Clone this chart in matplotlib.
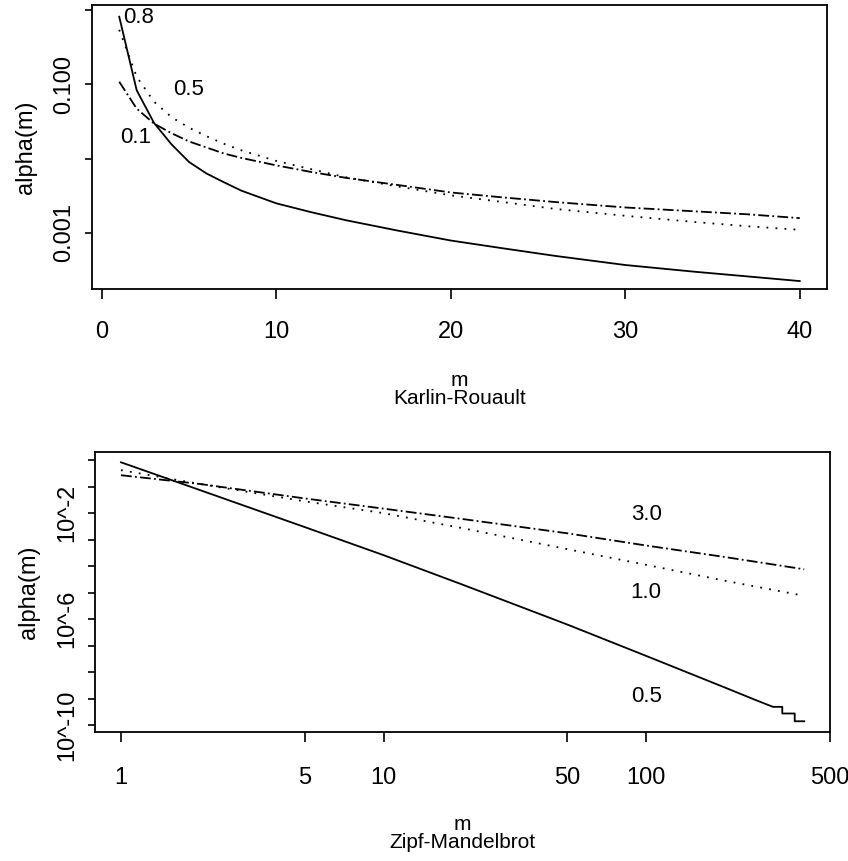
import numpy as np
import matplotlib.pyplot as plt
from matplotlib.ticker import NullLocator

# Karlin-Rouault panel
m_kr = [1, 2, 3, 4, 5, 6, 7, 8, 10, 12, 14, 17, 20, 23, 26, 30, 34, 37, 40]
kr_08 = [0.81, 0.083, 0.030, 0.0155, 0.0090, 0.0063, 0.0048, 0.0037, 0.0025, 0.0019,
         0.00148, 0.00107, 0.00079, 0.00062, 0.00049, 0.00037, 0.00030, 0.00026, 0.000225]
kr_05 = [0.54, 0.126, 0.058, 0.036, 0.026, 0.020, 0.0158, 0.0129, 0.0093, 0.0072,
         0.0056, 0.0042, 0.0032, 0.0026, 0.0021, 0.0017, 0.0014, 0.00123, 0.0011]
kr_01 = [0.108, 0.047, 0.0295, 0.0219, 0.017, 0.0141, 0.0117, 0.0102, 0.0081, 0.0066,
         0.0055, 0.0044, 0.0035, 0.0030, 0.0026, 0.0022, 0.00195, 0.00178, 0.00158]

# Zipf-Mandelbrot panel
m_zm = [1, 2, 5, 10, 20, 50, 100, 200, 400]
zm_30 = [0.27, 0.126, 0.036, 0.0148, 6.0e-3, 1.74e-3, 6.0e-4, 2.2e-4, 7.6e-5]
zm_10 = [0.42, 0.126, 0.028, 0.010, 2.7e-3, 4.4e-4, 1.12e-4, 2.8e-5, 7.6e-6]
m_zm05 = [1, 2, 5, 10, 20, 50, 100, 200, 264, 304, 330, 330, 368, 368, 400]
zm_05 = [0.83, 0.074, 3.0e-3, 2.6e-4, 2.0e-5, 6.3e-7, 4.1e-8, 2.6e-9, 8.5e-10,
         4.9e-10, 4.9e-10, 2.75e-10, 2.75e-10, 1.4e-10, 1.4e-10]

plt.rcParams['font.family'] = ['Liberation Sans Narrow', 'Liberation Sans', 'DejaVu Sans']
plt.rcParams['axes.linewidth'] = 1.3

fig = plt.figure(figsize=(8.48, 8.61), dpi=100)
dots = (0, (1, 4))
dashdot = (0, (6, 1.8, 1, 1.8))

# top panel
ax1 = fig.add_axes([0.1085, 0.6643, 0.8667, 0.330])
ax1.plot(m_kr, kr_08, color='black', lw=1.3)
ax1.plot(m_kr, kr_05, color='black', lw=1.3, linestyle=dots)
ax1.plot(m_kr, kr_01, color='black', lw=1.3, linestyle=dashdot)
ax1.set_yscale('log')
ax1.set_xlim(-0.56, 41.56)
ax1.set_ylim(10**-3.755, 10**0.067)
ax1.set_xticks([0, 10, 20, 30, 40])
ax1.set_yticks([1, 0.1, 0.01, 0.001])
ax1.set_yticklabels(['', '0.100', '', '0.001'])
ax1.yaxis.set_minor_locator(NullLocator())
ax1.text(1.2, 10**-0.10, '0.8', fontsize=16, va='center', ha='left')
ax1.text(5.0, 10**-1.07, '0.5', fontsize=16, va='center', ha='center')
ax1.text(1.94, 10**-1.72, '0.1', fontsize=16, va='center', ha='center')
ax1.set_xlabel('m\nKarlin-Rouault', fontsize=15, linespacing=0.95, labelpad=20)

# bottom panel
ax2 = fig.add_axes([0.112, 0.1498, 0.8667, 0.325])
ax2.plot(m_zm05, zm_05, color='black', lw=1.3)
ax2.plot(m_zm, zm_10, color='black', lw=1.3, linestyle=dots)
ax2.plot(m_zm, zm_30, color='black', lw=1.3, linestyle=dashdot)
ax2.set_xscale('log')
ax2.set_yscale('log')
ax2.set_xlim(10**-0.099, 10**2.70)
ax2.set_ylim(10**-10.26, 10**0.30)
ax2.set_xticks([1, 5, 10, 50, 100, 500])
ax2.set_xticklabels(['1', '5', '10', '50', '100', '500'])
yt = [10.0**-k for k in range(11)]
ax2.set_yticks(yt)
ax2.set_yticklabels(['10^-%d' % k if k in (2, 6, 10) else '' for k in range(11)])
ax2.xaxis.set_minor_locator(NullLocator())
ax2.yaxis.set_minor_locator(NullLocator())
ax2.text(100, 10**-2.04, '3.0', fontsize=16, va='center', ha='center')
ax2.text(100, 10**-5.0, '1.0', fontsize=16, va='center', ha='center')
ax2.text(100, 10**-8.92, '0.5', fontsize=16, va='center', ha='center')
ax2.set_xlabel('m\nZipf-Mandelbrot', fontsize=15, linespacing=0.95, labelpad=19)

for ax in (ax1, ax2):
    ax.tick_params(axis='y', direction='out', length=5, width=1.2, pad=7, labelsize=17,
                   labelrotation=90)
    for lab in ax.get_yticklabels():
        lab.set_verticalalignment('center')
    ax.set_ylabel('alpha(m)', fontsize=17, labelpad=12)
ax1.tick_params(axis='x', direction='out', length=7, width=1.2, pad=16, labelsize=17)
ax2.tick_params(axis='x', direction='out', length=7, width=1.2, pad=18, labelsize=17)

fig.savefig('out.png', dpi=100)
